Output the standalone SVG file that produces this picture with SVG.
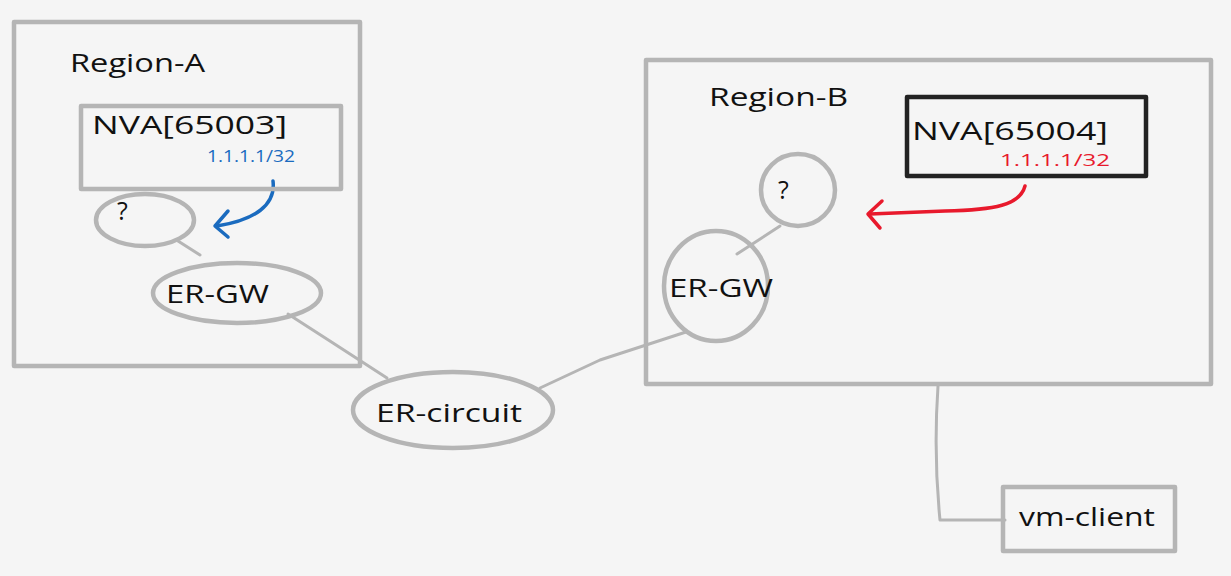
<svg xmlns="http://www.w3.org/2000/svg" width="1231" height="576" viewBox="0 0 1231 576">
<style>
.box{fill:none;stroke:#b5b5b5;stroke-width:4.5;stroke-linejoin:round}
.shape{fill:none;stroke:#b5b5b5;stroke-width:4.5}
.conn{fill:none;stroke:#b5b5b5;stroke-width:3;stroke-linecap:round;stroke-linejoin:round}
.t{font-family:"Open Sans","DejaVu Sans",sans-serif;fill:#111;font-size:25px}
.s{font-family:"Open Sans","DejaVu Sans",sans-serif;font-size:17px}
</style>
<rect width="1231" height="576" fill="#f5f5f5"/>
<g id="connectors">
<path class="conn" d="M178,241 L200,255"/>
<path class="conn" d="M288,314 L333,343 L387,378"/>
<path class="conn" d="M540,388 L600,360 L686,332"/>
<path class="conn" d="M737,254 L780,226"/>
<path class="conn" d="M938,386 C935,430 936,480 940,520 L1005,520"/>
<path d="M273,181 C276,205 255,220 217,226" fill="none" stroke="#1a6bbf" stroke-width="3.5" stroke-linecap="round"/>
<path d="M228,211 L215,226 L228,237" fill="none" stroke="#1a6bbf" stroke-width="3.5" stroke-linecap="round" stroke-linejoin="round"/>
<path d="M1025,186 C1020,205 995,210 945,211 L870,214" fill="none" stroke="#e8192c" stroke-width="3.5" stroke-linecap="round"/>
<path d="M882,201 L868,214 L880,228" fill="none" stroke="#e8192c" stroke-width="3.5" stroke-linecap="round" stroke-linejoin="round"/>
</g>
<g id="region-a">
<rect class="box" x="14" y="22" width="346" height="344"/>
<text class="t" x="70" y="72" font-size="29" textLength="135" lengthAdjust="spacingAndGlyphs">Region-A</text>
</g>
<g id="nva-65003">
<rect class="box" x="81" y="106" width="260" height="83"/>
<text class="t" x="92" y="134" textLength="195" lengthAdjust="spacingAndGlyphs">NVA[65003]</text>
<text class="s" x="207" y="162" fill="#1a6bbf" textLength="88" lengthAdjust="spacingAndGlyphs">1.1.1.1/32</text>
</g>
<g id="q-a">
<ellipse class="shape" cx="145" cy="220" rx="49" ry="26"/>
<text class="t" x="117" y="220" font-size="20">?</text>
</g>
<g id="ergw-a">
<ellipse class="shape" cx="237" cy="293" rx="84" ry="30"/>
<text class="t" x="166" y="303" font-size="27" textLength="103" lengthAdjust="spacingAndGlyphs">ER-GW</text>
</g>
<g id="er-circuit">
<ellipse class="shape" cx="453" cy="410" rx="100" ry="38"/>
<text class="t" x="376" y="422" font-size="27" textLength="146" lengthAdjust="spacingAndGlyphs">ER-circuit</text>
</g>
<g id="region-b">
<rect class="box" x="646" y="60" width="565" height="324"/>
<text class="t" x="709" y="106" font-size="29" textLength="139" lengthAdjust="spacingAndGlyphs">Region-B</text>
</g>
<g id="nva-65004">
<rect x="907" y="97" width="239" height="79" fill="none" stroke="#222" stroke-width="4.5" stroke-linejoin="round"/>
<text class="t" x="912" y="140" textLength="196" lengthAdjust="spacingAndGlyphs">NVA[65004]</text>
<text class="s" x="1000" y="166" fill="#e8192c" font-size="19" textLength="110" lengthAdjust="spacingAndGlyphs">1.1.1.1/32</text>
</g>
<g id="q-b">
<ellipse class="shape" cx="798" cy="190" rx="37" ry="36"/>
<text class="t" x="778" y="199" font-size="20">?</text>
</g>
<g id="ergw-b">
<ellipse class="shape" cx="716" cy="286" rx="52" ry="55"/>
<text class="t" x="669" y="297" font-size="27" textLength="104" lengthAdjust="spacingAndGlyphs">ER-GW</text>
</g>
<g id="vm-client">
<rect class="box" x="1003" y="487" width="172" height="64"/>
<text class="t" x="1019" y="526" font-size="27" textLength="136" lengthAdjust="spacingAndGlyphs">vm-client</text>
</g>
</svg>
